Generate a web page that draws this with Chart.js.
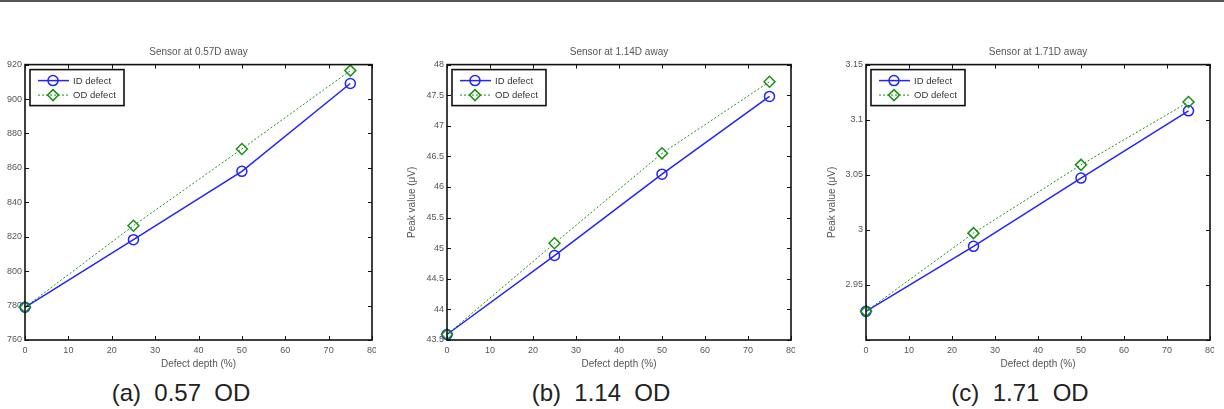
<!DOCTYPE html>
<html>
<head>
<meta charset="utf-8">
<script src="https://cdn.jsdelivr.net/npm/chart.js@4/dist/chart.umd.min.js"></script>
<style>
  body { margin: 0; width: 1224px; height: 409px; background: #fff; position: relative; overflow: hidden; font-family: "Liberation Sans", Arial, sans-serif; }
  .topline { position: absolute; left: 0; top: 0; width: 1224px; height: 2px; background: #555; }
  .wrap { position: absolute; top: 40px; height: 330px; overflow: hidden; }
  canvas { display: block; }
  .cap { position: absolute; top: 381px; font-size: 24px; line-height: 23px; color: #222; white-space: pre; transform: translateX(-50%); }
</style>
</head>
<body>
<div class="topline"></div>
<!-- the wrappers clip the right edge, like the "80" label cut off in the figure -->
<div class="wrap" style="left:0px;width:376px"><canvas id="chartA" width="392" height="330"></canvas></div>
<div class="wrap" style="left:400px;width:395px"><canvas id="chartB" width="411" height="330"></canvas></div>
<div class="wrap" style="left:820px;width:394px"><canvas id="chartC" width="410" height="330"></canvas></div>
<div class="cap" style="left:181px">(a)  0.57  OD</div>
<div class="cap" style="left:601px">(b)  1.14  OD</div>
<div class="cap" style="left:1020px">(c)  1.71  OD</div>

<script>
//---------------------------------------------------------
// Data
const depth = [0, 25, 50, 75]; // defect depth (%)
const xTicks = [0, 10, 20, 30, 40, 50, 60, 70, 80];
const seriesNames = ["ID defect", "OD defect"];

// (a) sensor at 0.57D
const idA = [779, 818.3, 858, 909];
const odA = [779, 826.4, 871, 916.5];
const yTicksA = [760, 780, 800, 820, 840, 860, 880, 900, 920];
const yLabelsA = ["760", "780", "800", "820", "840", "860", "880", "900", "920"];

// (b) sensor at 1.14D
const idB = [43.59, 44.88, 46.21, 47.48];
const odB = [43.59, 45.08, 46.55, 47.72];
const yTicksB = [43.5, 44, 44.5, 45, 45.5, 46, 46.5, 47, 47.5, 48];
const yLabelsB = ["43.5", "44", "44.5", "45", "45.5", "46", "46.5", "47", "47.5", "48"];

// (c) sensor at 1.71D
const idC = [2.926, 2.985, 3.047, 3.108];
const odC = [2.926, 2.997, 3.059, 3.116];
const yTicksC = [2.9, 2.95, 3, 3.05, 3.1, 3.15];
const yLabelsC = ["", "2.95", "3", "3.05", "3.1", "3.15"];

const FONT = "'Liberation Sans', Arial, sans-serif";
const BLUE = "rgb(35, 35, 250)";
const GREEN = "rgb(25, 145, 25)";
const TEXT = "#555";

//---------------------------------------------------------
// MATLAB-like axes box, inward ticks and legend box
const matlabAxes = {
  id: "matlabAxes",
  afterDraw(chart) {
    const { ctx, chartArea: a, scales } = chart;
    ctx.save();
    ctx.strokeStyle = "#111";
    ctx.lineWidth = 1;
    scales.x.ticks.forEach(t => { // ticks on bottom and top
      const px = Math.round(scales.x.getPixelForValue(t.value)) + 0.5;
      ctx.beginPath();
      ctx.moveTo(px, a.bottom); ctx.lineTo(px, a.bottom - 4);
      ctx.moveTo(px, a.top); ctx.lineTo(px, a.top + 4);
      ctx.stroke();
    });
    scales.y.ticks.forEach(t => { // ticks on left and right
      const py = Math.round(scales.y.getPixelForValue(t.value)) + 0.5;
      ctx.beginPath();
      ctx.moveTo(a.left, py); ctx.lineTo(a.left + 4, py);
      ctx.moveTo(a.right, py); ctx.lineTo(a.right - 4, py);
      ctx.stroke();
    });
    ctx.lineWidth = 1.6;
    ctx.strokeRect(a.left, a.top, a.right - a.left, a.bottom - a.top);

    // legend in the upper left corner
    const lx = a.left + 5, ly = a.top + 5;
    ctx.fillStyle = "#fff";
    ctx.fillRect(lx, ly, 94, 36);
    ctx.lineWidth = 1.6;
    ctx.strokeStyle = "#111";
    ctx.strokeRect(lx, ly, 94, 36);
    chart.data.datasets.forEach((ds, i) => {
      const ry = ly + 11 + i * 14.5;
      ctx.strokeStyle = ds.borderColor;
      ctx.lineWidth = ds.borderWidth;
      ctx.setLineDash(ds.borderDash || []);
      ctx.beginPath(); ctx.moveTo(lx + 8, ry); ctx.lineTo(lx + 39, ry); ctx.stroke();
      ctx.setLineDash([]);
      ctx.lineWidth = ds.pointBorderWidth;
      ctx.beginPath();
      if (ds.pointStyle === "circle") {
        ctx.arc(lx + 23, ry, 5, 0, Math.PI * 2);
      } else {
        ctx.moveTo(lx + 23, ry - 5.5); ctx.lineTo(lx + 28.5, ry);
        ctx.lineTo(lx + 23, ry + 5.5); ctx.lineTo(lx + 17.5, ry); ctx.closePath();
      }
      ctx.stroke();
      ctx.fillStyle = "#333";
      ctx.font = "9.5px " + FONT;
      ctx.textBaseline = "middle";
      ctx.fillText(ds.label, lx + 43, ry + 0.5);
    });
    ctx.restore();
  }
};

//---------------------------------------------------------
// Reusable chart builder
function drawPanel(canvasId, title, idVals, odVals, yTicks, yLabels, yTitle, yWidth) {
  const ctx = document.getElementById(canvasId).getContext("2d");
  return new Chart(ctx, {
    type: "line",
    data: {
      labels: depth,
      datasets: [
        {
          label: seriesNames[0],
          data: depth.map((d, i) => ({ x: d, y: idVals[i] })),
          borderColor: BLUE,
          borderWidth: 1.5,
          pointStyle: "circle",
          pointRadius: 5,
          pointBorderWidth: 1.5,
          pointBorderColor: BLUE,
          pointBackgroundColor: "rgba(0,0,0,0)",
          clip: false,
          order: 1,
        },
        {
          label: seriesNames[1],
          data: depth.map((d, i) => ({ x: d, y: odVals[i] })),
          borderColor: GREEN,
          borderWidth: 1,
          borderDash: [2, 2],
          pointStyle: "rectRot",
          pointRadius: 5.5,
          pointBorderWidth: 1.5,
          pointBorderColor: GREEN,
          pointBackgroundColor: "rgba(0,0,0,0)",
          clip: false,
          order: 0,
        },
      ],
    },
    options: {
      responsive: false,
      animation: false,
      devicePixelRatio: 1,
      layout: { padding: { left: 0, right: 20, top: 0, bottom: 0 } },
      scales: {
        x: {
          type: "linear",
          min: 0,
          max: 80,
          afterBuildTicks: s => { s.ticks = xTicks.map(v => ({ value: v })); },
          afterFit: s => { s.height = 30; },
          grid: { display: false, drawTicks: false },
          border: { display: false },
          ticks: { color: TEXT, font: { family: FONT, size: 9 }, padding: 5, maxRotation: 0 },
          title: { display: true, text: "Defect depth (%)", color: TEXT, font: { family: FONT, size: 10 }, padding: { top: 0, bottom: 0 } },
        },
        y: {
          min: yTicks[0],
          max: yTicks[yTicks.length - 1],
          afterBuildTicks: s => { s.ticks = yTicks.map(v => ({ value: v })); },
          afterFit: s => { s.width = yWidth; },
          grid: { display: false, drawTicks: false },
          border: { display: false },
          ticks: { color: TEXT, font: { family: FONT, size: 9 }, padding: 3, callback: (v, i) => yLabels[i] },
          title: { display: !!yTitle, text: yTitle, color: TEXT, font: { family: FONT, size: 10 }, padding: { top: 6, bottom: 0 } },
        },
      },
      plugins: {
        legend: { display: false },
        tooltip: { enabled: false },
        title: { display: true, text: title, fullSize: false, color: TEXT, font: { family: FONT, size: 10, weight: "normal" }, padding: { top: 6, bottom: 6.6 } },
      },
    },
    plugins: [matlabAxes],
  });
}

//---------------------------------------------------------
// Three panels
drawPanel("chartA", "Sensor at 0.57D away", idA, odA, yTicksA, yLabelsA, "", 25);
drawPanel("chartB", "Sensor at 1.14D away", idB, odB, yTicksB, yLabelsB, "Peak value (\u03bcV)", 47);
drawPanel("chartC", "Sensor at 1.71D away", idC, odC, yTicksC, yLabelsC, "Peak value (\u03bcV)", 46);
</script>
</body>
</html>
